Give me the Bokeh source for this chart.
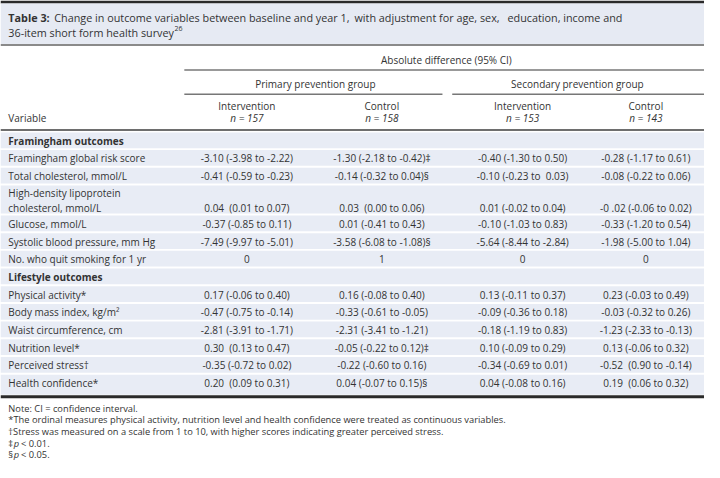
from bokeh.plotting import figure
from bokeh.models import Range1d
from bokeh.embed import file_html
from bokeh.resources import INLINE
from bokeh.core.properties import value

# ---------------- data ----------------
title_bold = "Table 3:"
title_chunks = ["Change in outcome variables between baseline and year 1,",
                "with adjustment for age, sex,",
                "education, income and"]
title_line2 = "36-item short form health survey"
title_sup = "26"
spanner = "Absolute difference (95% CI)"
groups = ["Primary prevention group", "Secondary prevention group"]
arms = ["Intervention", "Control", "Intervention", "Control"]
arm_n = ["n = 157", "n = 158", "n = 153", "n = 143"]
var_header = "Variable"

variables = [
    "Framingham outcomes",
    "Framingham global risk score",
    "Total cholesterol, mmol/L",
    "High-density lipoprotein\ncholesterol, mmol/L",
    "Glucose, mmol/L",
    "Systolic blood pressure, mm Hg",
    "No. who quit smoking for 1 yr",
    "Lifestyle outcomes",
    "Physical activity*",
    "Body mass index, kg/m\u00b2",
    "Waist circumference, cm",
    "Nutrition level*",
    "Perceived stress\u2020",
    "Health confidence*",
]
section_rows = ["Framingham outcomes", "Lifestyle outcomes"]

primary_intervention = ["", "-3.10 (-3.98 to -2.22)", "-0.41 (-0.59 to -0.23)", "0.04\u00a0 (0.01 to 0.07)",
                        "-0.37 (-0.85 to 0.11)", "-7.49 (-9.97 to -5.01)", "0", "",
                        "0.17 (-0.06 to 0.40)", "-0.47 (-0.75 to -0.14)", "-2.81 (-3.91 to -1.71)",
                        "0.30\u00a0 (0.13 to 0.47)", "-0.35 (-0.72 to 0.02)", "0.20\u00a0 (0.09 to 0.31)"]
primary_control = ["", "-1.30 (-2.18 to -0.42)\u2021", "-0.14 (-0.32 to 0.04)\u00a7", "0.03\u00a0 (0.00 to 0.06)",
                   "0.01 (-0.41 to 0.43)", "-3.58 (-6.08 to -1.08)\u00a7", "1", "",
                   "0.16 (-0.08 to 0.40)", "-0.33 (-0.61 to -0.05)", "-2.31 (-3.41 to -1.21)",
                   "-0.05 (-0.22 to 0.12)\u2021", "-0.22 (-0.60 to 0.16)", "0.04 (-0.07 to 0.15)\u00a7"]
secondary_intervention = ["", "-0.40 (-1.30 to 0.50)", "-0.10 (-0.23 to\u00a0 0.03)", "0.01 (-0.02 to 0.04)",
                          "-0.10 (-1.03 to 0.83)", "-5.64 (-8.44 to -2.84)", "0", "",
                          "0.13 (-0.11 to 0.37)", "-0.09 (-0.36 to 0.18)", "-0.18 (-1.19 to 0.83)",
                          "0.10 (-0.09 to 0.29)", "-0.34 (-0.69 to 0.01)", "0.04 (-0.08 to 0.16)"]
secondary_control = ["", "-0.28 (-1.17 to 0.61)", "-0.08 (-0.22 to 0.06)", "-0 .02 (-0.06 to 0.02)",
                     "-0.33 (-1.20 to 0.54)", "-1.98 (-5.00 to 1.04)", "0", "",
                     "0.23 (-0.03 to 0.49)", "-0.03 (-0.32 to 0.26)", "-1.23 (-2.33 to -0.13)",
                     "0.13 (-0.06 to 0.32)", "-0.52\u00a0 (0.90 to -0.14)", "0.19\u00a0 (0.06 to 0.32)"]

notes = [
    "Note: CI = confidence interval.",
    "*The ordinal measures physical activity, nutrition level and health confidence were treated as continuous variables.",
    "\u2020Stress was measured on a scale from 1 to 10, with higher scores indicating greater perceived stress.",
]
p_notes = [("\u2021", "p", "< 0.01."), ("\u00a7", "p", "< 0.05.")]

# ---------------- layout ----------------
FONT = value("Open Sans")
TXT = "#333333"
BAND = "#e6eaf3"
ROWBG = "#e8ecf5"

p = figure(width=704, height=462, x_range=Range1d(0, 720), y_range=Range1d(478, 0),
           output_backend="svg", toolbar_location=None, min_border=0,
           outline_line_color=None, background_fill_color="white")
p.axis.visible = False
p.grid.visible = False

def txt(x, y, t, size="10px", align="left", style="normal", color=TXT):
    p.text(x=x, y=y, text=t, text_font=FONT, text_font_size=size, text_align=align,
           text_baseline="middle", text_font_style=style, text_color=color)

# title band (first line justified across the band, as in the journal layout)
p.quad(left=[0], right=[720], top=[0], bottom=[3], fill_color="#2a2a2a", line_color=None)
p.quad(left=[0], right=[720], top=[3], bottom=[45], fill_color=BAND, line_color=None)
p.quad(left=[0], right=[720], top=[45], bottom=[47], fill_color="#8a8a8a", line_color=None)
txt([8], [18], [title_bold], size="10.8px", style="bold")
txt([55, 362], [18, 18], title_chunks[:2], size="10.8px")
txt([636], [18], title_chunks[2:], size="10.8px", align="right")
txt([8], [33], [title_line2], size="10.8px")
txt([178], [29], [title_sup], size="7px")

# column header
col_x = [252, 390, 534, 660]
group_x = [322, 590]
txt([456], [62], [spanner], align="center")
p.segment(x0=[188], y0=[72], x1=[720], y1=[72], line_color="#777777", line_width=1.5)
txt(group_x, [86, 86], groups, align="center")
p.segment(x0=[188, 462], y0=[97, 97], x1=[452, 720], y1=[97, 97], line_color="#777777", line_width=1.5)
txt(col_x, [109] * 4, arms, align="center")
txt(col_x, [122] * 4, arm_n, align="center", style="italic")
txt([8], [122], [var_header])
p.quad(left=[0], right=[720], top=[133], bottom=[135], fill_color="#6e6e6e", line_color=None)

# body rows
SINGLE, DOUBLE = 18.3, 31.0
y = 136.5
tops, bottoms, lines_y = [], [], []
for v in variables:
    n = len(v.split("\n"))
    h = SINGLE if n == 1 else DOUBLE
    tops.append(y)
    bottoms.append(y + h - 2)
    if n == 1:
        lines_y.append([y + h / 2 - 0.5])
    else:
        lines_y.append([y + 8, y + 23])
    y += h
bottoms[-1] = 408
p.quad(left=[0] * len(tops), right=[720] * len(tops), top=tops, bottom=bottoms,
       fill_color=ROWBG, line_color=None)

for i, v in enumerate(variables):
    parts = v.split("\n")
    style = "bold" if v in section_rows else "normal"
    txt([8] * len(parts), lines_y[i], parts, style=style)
    vy = lines_y[i][-1]
    vals = [primary_intervention[i], primary_control[i], secondary_intervention[i], secondary_control[i]]
    txt(col_x, [vy] * 4, vals, align="center")

p.quad(left=[0], right=[720], top=[408.5], bottom=[411.5], fill_color="#2a2a2a", line_color=None)

# notes
ny = [422, 434, 446, 458, 470]
for i, n in enumerate(notes):
    txt([8], [ny[i]], [n], size="9.3px")
for j, (sym, pit, rest) in enumerate(p_notes):
    yy = ny[3 + j]
    txt([8], [yy], [sym], size="9.3px")
    txt([13.5], [yy], [pit], size="9.3px", style="italic")
    txt([21], [yy], [rest], size="9.3px")

open("out.html", "w").write(file_html(p, INLINE))
